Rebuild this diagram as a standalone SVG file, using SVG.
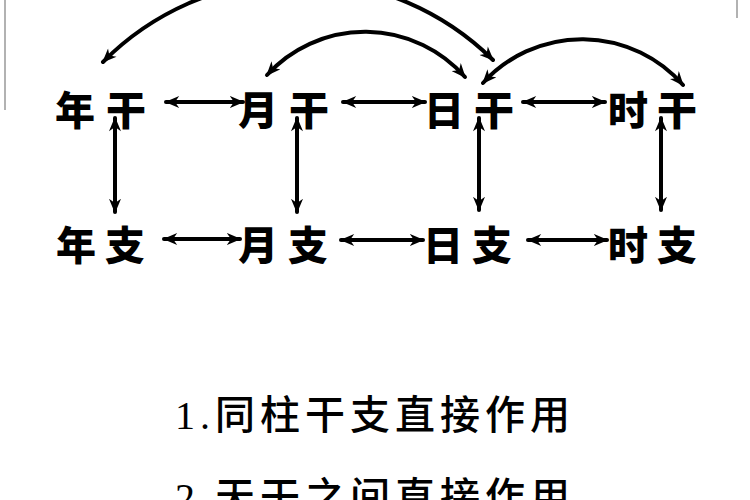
<svg xmlns="http://www.w3.org/2000/svg" width="750" height="500" viewBox="0 0 750 500">
<defs>
<style>
.node{font-family:"Noto Sans CJK SC","Noto Sans CJK JP",sans-serif;font-weight:900;font-size:40px;fill:#000;text-anchor:middle}
.cap{font-family:"Liberation Serif","Noto Sans CJK SC",serif;font-size:40px;font-weight:500;fill:#000}
.conn{fill:none;stroke:#000;stroke-width:4;stroke-linecap:round;marker-start:url(#ah);marker-end:url(#ah)}
.edge{stroke:#999;stroke-width:1.5}
</style>
<marker id="ah" viewBox="0 0 12 10" refX="11" refY="5" markerWidth="15" markerHeight="12" markerUnits="userSpaceOnUse" orient="auto-start-reverse">
<path d="M0,0 L12,5 L0,10 L3.5,5 z" fill="#000"/>
</marker>
</defs>
<rect width="750" height="500" fill="#fff"/>
<line class="edge" x1="5" y1="0" x2="5" y2="110"/>
<line class="edge" x1="737" y1="0" x2="737" y2="18"/>
<g id="connectors">
<path class="conn" d="M103,62 A276,276 0 0 1 493,60"/>
<path class="conn" d="M267,75 A133,133 0 0 1 465,77"/>
<path class="conn" d="M483,83 A134,134 0 0 1 683,85"/>
<path class="conn" d="M166,102 L243,102"/>
<path class="conn" d="M343,102 L425,102"/>
<path class="conn" d="M523,102 L605,102"/>
<path class="conn" d="M164,239 L240,239"/>
<path class="conn" d="M341,240 L423,240"/>
<path class="conn" d="M528,240 L607,240"/>
<path class="conn" d="M115,118 L115,212"/>
<path class="conn" d="M297,118 L297,212"/>
<path class="conn" d="M479,118 L479,210"/>
<path class="conn" d="M661,118 L661,210"/>
</g>
<g id="nianGan"><text class="node" y="125"><tspan x="75">年</tspan><tspan x="126">干</tspan></text></g>
<g id="yueGan"><text class="node" y="125"><tspan x="258">月</tspan><tspan x="309">干</tspan></text></g>
<g id="riGan"><text class="node" y="125"><tspan x="444">日</tspan><tspan x="494">干</tspan></text></g>
<g id="shiGan"><text class="node" y="125"><tspan x="628">时</tspan><tspan x="677">干</tspan></text></g>
<g id="nianZhi"><text class="node" y="260"><tspan x="76">年</tspan><tspan x="125">支</tspan></text></g>
<g id="yueZhi"><text class="node" y="260"><tspan x="258">月</tspan><tspan x="308">支</tspan></text></g>
<g id="riZhi"><text class="node" y="260"><tspan x="443">日</tspan><tspan x="492">支</tspan></text></g>
<g id="shiZhi"><text class="node" y="260"><tspan x="628">时</tspan><tspan x="677">支</tspan></text></g>
<text class="cap" x="175" y="429" textLength="395" lengthAdjust="spacing">1.同柱干支直接作用</text>
<text class="cap" x="175" y="511" textLength="395" lengthAdjust="spacing">2.天干之间直接作用</text>
</svg>
